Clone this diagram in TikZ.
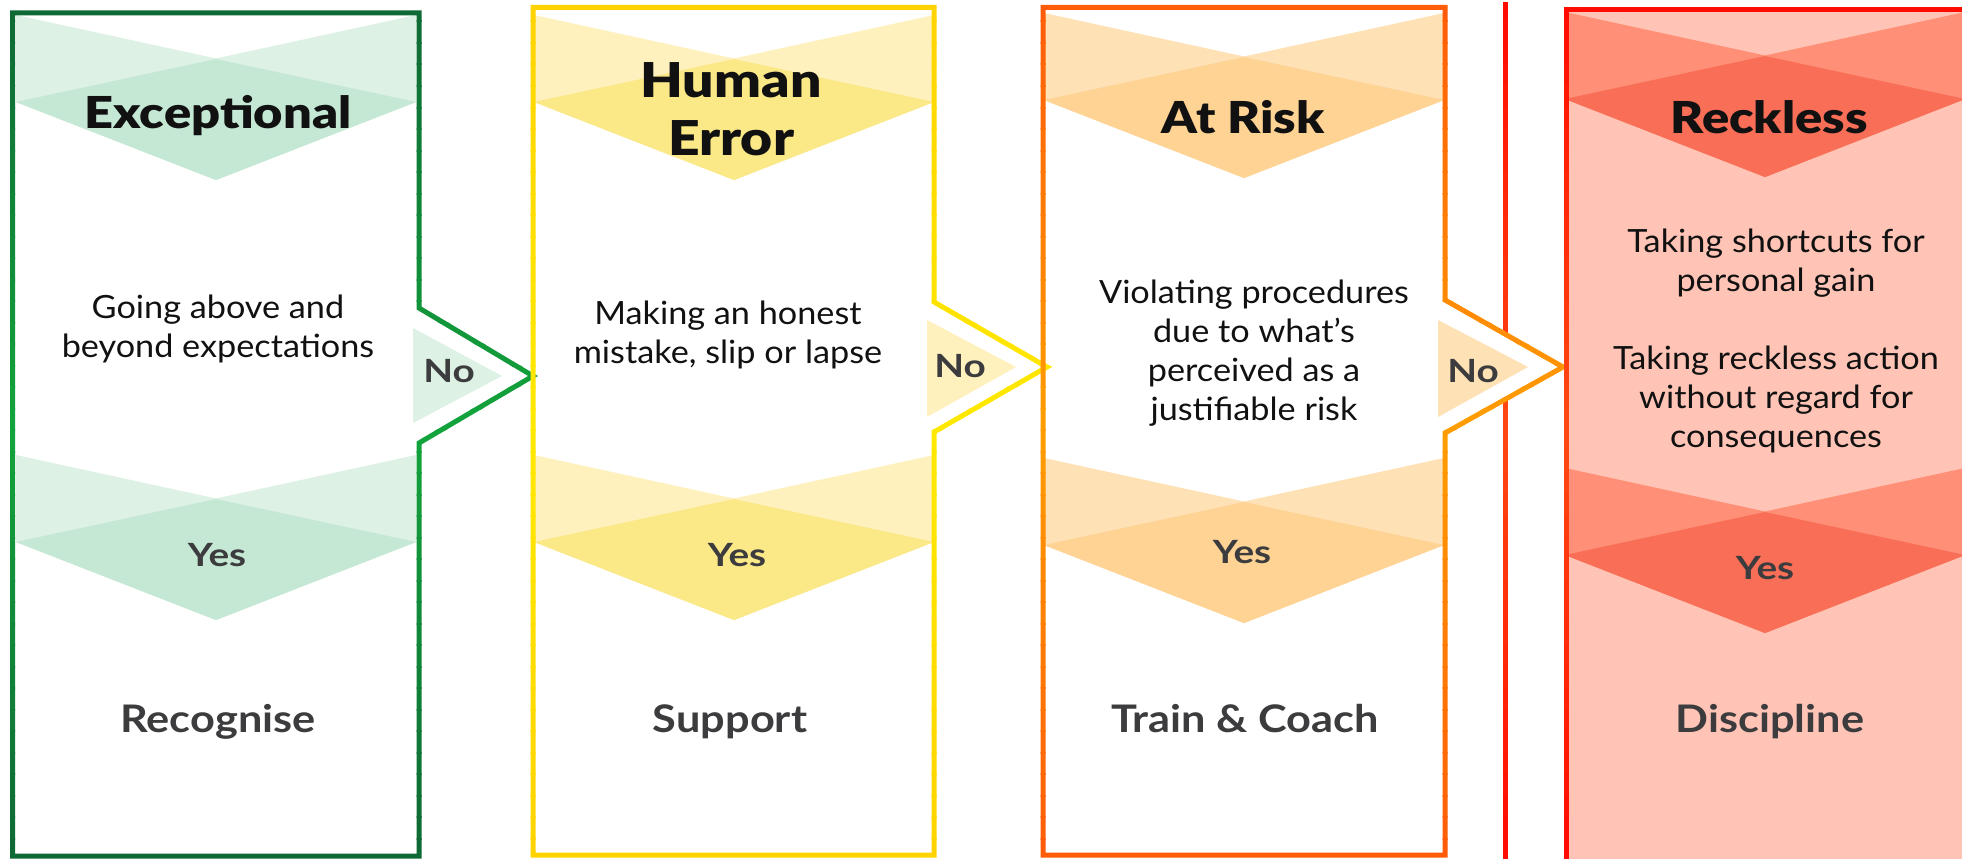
\documentclass[tikz,border=0pt]{standalone}
\usepackage{fontspec}
\setmainfont{Lato}
\newfontfamily\headfont{Lato Black}[FakeStretch=1.15]
\newfontfamily\descfont{Lato}[FakeStretch=1.07]
\newfontfamily\answerfont{Lato Bold}[FakeStretch=1.21]
\newfontfamily\actionfont{Lato Bold}[FakeStretch=1.14]
\usepackage{tikz}
\definecolor{ink}{HTML}{111111}
\definecolor{label}{HTML}{3C3C3E}
\definecolor{gmid}{HTML}{13A53C}
\definecolor{gend}{HTML}{0E6834}
\definecolor{glight}{HTML}{DDF1E4}
\definecolor{gdark}{HTML}{C4E8D4}
\definecolor{ymid}{HTML}{FFE900}
\definecolor{yend}{HTML}{FFD300}
\definecolor{ylight}{HTML}{FFF1BE}
\definecolor{ydark}{HTML}{FBE887}
\definecolor{omid}{HTML}{FF9E00}
\definecolor{oend}{HTML}{FF5A08}
\definecolor{olight}{HTML}{FFE1B6}
\definecolor{odark}{HTML}{FED394}
\definecolor{rmid}{HTML}{FF4A12}
\definecolor{rend}{HTML}{FF0A00}
\definecolor{rfill}{HTML}{FFC4B5}
\definecolor{rlight}{HTML}{FF8F76}
\definecolor{rdark}{HTML}{F96E56}
\tikzset{
  frame/.style   ={draw=#1, line width=5pt, line join=miter},
  title/.style   ={font=\headfont\fontsize{44}{58}\selectfont, text=ink, align=center, inner sep=0pt},
  desc/.style    ={font=\descfont\fontsize{32}{39}\selectfont, text=ink, align=center, inner sep=0pt},
  answer/.style  ={font=\answerfont\fontsize{32}{36}\selectfont, text=label, inner sep=0pt},
  action/.style  ={font=\actionfont\fontsize{38}{44}\selectfont, text=label, inner sep=0pt},
  pics/chevron/.style 2 args={code={
    \fill[#1] (-200,0) -- (200,87) -- (0,165) -- (-200,87) -- cycle;
    \fill[#1] (200,0) -- (-200,87) -- (0,165) -- (200,87) -- cycle;
    \fill[#2] (0,44) -- (200,87) -- (0,165) -- (-200,87) -- cycle;
  }},
}
% column outlines, each with its "No" notch on the right
\newcommand\greenframe{(12.5,12.8) -- (419,12.8) -- (419,308) -- (533,376) -- (419,443) -- (419,856) -- (12.5,856) -- cycle}
\newcommand\yellowframe{(533,7.5) -- (934,7.5) -- (934,302) -- (1047,367) -- (934,432) -- (934,855) -- (533,855) -- cycle}
\newcommand\orangeframe{(1043,7.5) -- (1445,7.5) -- (1445,300) -- (1563,367) -- (1445,433) -- (1445,855) -- (1043,855) -- cycle}
\newcommand\redframe{(1566,880) -- (1566,10) -- (1990,10) -- (1990,880)}

\begin{document}
\begin{tikzpicture}[x=1pt, y=-1pt]
\useasboundingbox (0,0) rectangle (1962,859);
% divider line, shaded top to bottom in thin bands
\foreach \i in {0,...,39} {
  \pgfmathsetmacro\stripa{\i*21.5-0.5}
  \pgfmathsetmacro\stripb{\stripa+22.5}
  \pgfmathtruncatemacro\shadepct{100-100*abs((2*\i+1)/40-1)}
  \begin{scope}
    \clip (-5,\stripa) rectangle (1990,\stripb);
    \draw[frame=rmid!\shadepct!rend] (1505,2.5) -- (1505,880);
  \end{scope}
}
% column fills
\fill[white] \orangeframe;
\fill[rfill] (1566,10) rectangle (1990,880);
% top bands
\pic at (216,15)   {chevron={glight}{gdark}};
\pic at (734,15)   {chevron={ylight}{ydark}};
\pic at (1244,13)  {chevron={olight}{odark}};
\pic at (1765,12)  {chevron={rlight}{rdark}};
% yes bands
\pic at (216,455)  {chevron={glight}{gdark}};
\pic at (734,455)  {chevron={ylight}{ydark}};
\pic at (1244,458) {chevron={olight}{odark}};
\pic at (1765,468) {chevron={rlight}{rdark}};
% no arrows
\fill[glight] (413,328) -- (502,376) -- (413,423) -- cycle;
\fill[ylight] (927,320) -- (1016,367) -- (927,417) -- cycle;
\fill[olight] (1438,320) -- (1528,367) -- (1438,417) -- cycle;
% frames, shaded top to bottom in thin bands
\foreach \i in {0,...,39} {
  \pgfmathsetmacro\stripa{\i*21.5-0.5}
  \pgfmathsetmacro\stripb{\stripa+22.5}
  \pgfmathtruncatemacro\shadepct{100-100*abs((2*\i+1)/40-1)}
  \begin{scope}
    \clip (-5,\stripa) rectangle (1990,\stripb);
    \draw[frame=gmid!\shadepct!gend] \greenframe;
    \draw[frame=ymid!\shadepct!yend] \yellowframe;
    \draw[frame=omid!\shadepct!oend] \orangeframe;
    \draw[frame=rmid!\shadepct!rend] \redframe;
  \end{scope}
}
% headings
\node[title, anchor=base] (exc)  at (218,128)  {Exceptional};
\node[title, font=\headfont\fontsize{48}{58}\selectfont] (herr) at (731,109) {Human\\Error};
\node[title, anchor=base] (risk) at (1243,133) {At Risk};
\node[title, anchor=base] (reck) at (1769,133) {Reckless};
% behaviours
\node[desc] (excdesc)  at (218,329)  {Going above and\\beyond expectations};
\node[desc] (herrdesc) at (728,335)  {Making an honest\\mistake, slip or lapse};
\node[desc] (riskdesc) at (1254,353) {Violating procedures\\due to what’s\\perceived as a\\justifiable risk};
\node[desc] (reckdesc) at (1776,341) {Taking shortcuts for\\personal gain\\[39pt]Taking reckless action\\without regard for\\consequences};
% answers
\node[answer, anchor=base] (excno)   at (449,382)  {No};
\node[answer, anchor=base] (herrno)  at (960,377)  {No};
\node[answer, anchor=base] (riskno)  at (1473,382) {No};
\node[answer, anchor=base] (excyes)  at (217,566)  {Yes};
\node[answer, anchor=base] (herryes) at (737,566)  {Yes};
\node[answer, anchor=base] (riskyes) at (1242,563) {Yes};
\node[answer, anchor=base] (reckyes) at (1765,579) {Yes};
% responses
\node[action, anchor=base] (excact)  at (218,732)  {Recognise};
\node[action, anchor=base] (herract) at (730,732)  {Support};
\node[action, anchor=base] (riskact) at (1245,732) {Train \& Coach};
\node[action, anchor=base] (reckact) at (1770,732) {Discipline};
\end{tikzpicture}
\end{document}
